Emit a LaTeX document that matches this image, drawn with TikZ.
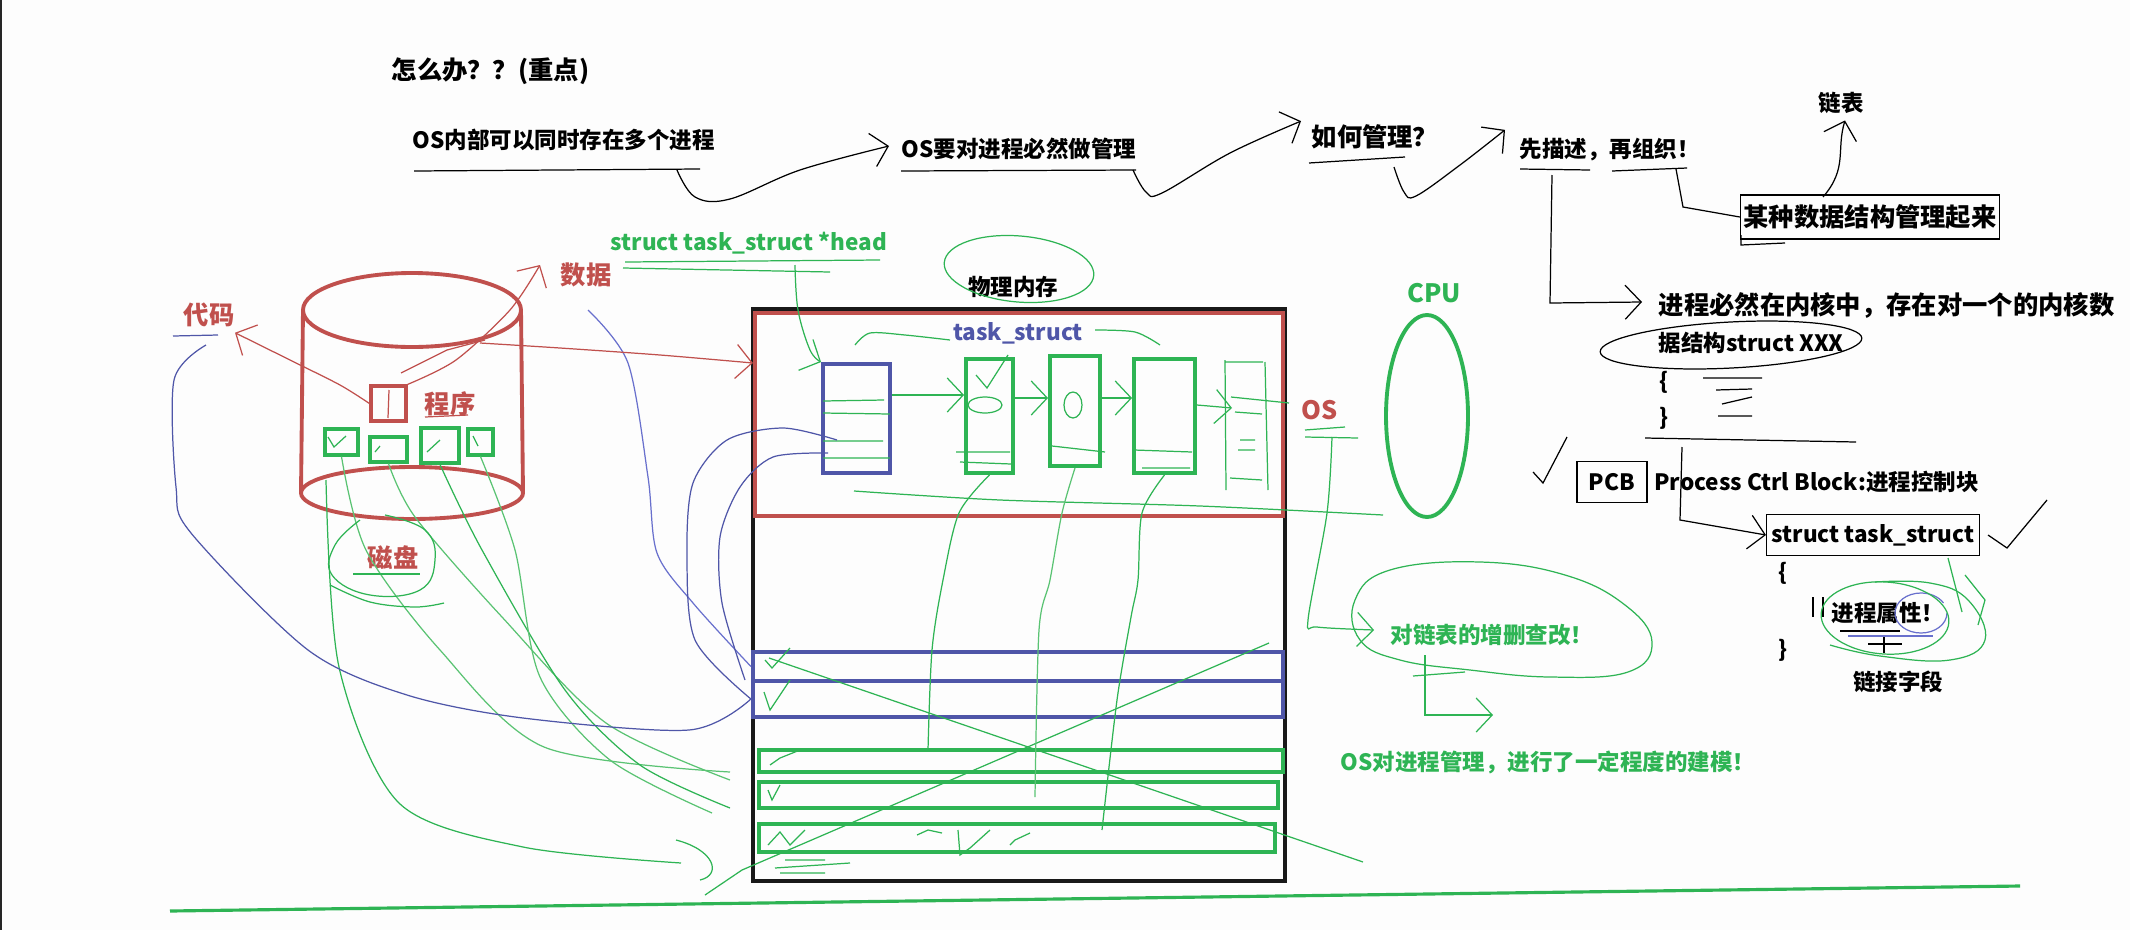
\documentclass[tikz,border=0pt]{standalone}
\usepackage{fontspec}
\setmainfont{Noto Sans CJK SC}
\usetikzlibrary{positioning,arrows.meta,calc}
\definecolor{Cred}{RGB}{192,80,77}
\definecolor{Cgreen}{RGB}{46,180,84}
\definecolor{Clgreen}{RGB}{90,195,115}
\definecolor{Cblue}{RGB}{79,86,168}
\definecolor{Clblue}{RGB}{105,112,205}
\definecolor{Cpaper}{RGB}{253,253,253}
\begin{document}
\begin{tikzpicture}[x=0.01cm, y=-0.01cm,
    txt/.style={font=\bfseries\fontsize{6.4}{8}\selectfont, inner sep=0pt},
    bigtxt/.style={txt, font=\bfseries\fontsize{7.2}{8}\selectfont},
    pen/.style={line width=0.35pt},
    box/.style={draw, line width=1.1pt, inner sep=0pt},
    hand/.style={-{Straight Barb[length=1.6mm,width=3.4mm]}}]
  \useasboundingbox[fill=Cpaper] (0,0) rectangle (2130,930);
  \draw[black!85, line width=0.7pt] (1,0) -- (1,930);

  % ---- chain of questions (top)
  \node[bigtxt, anchor=west] (title) at (391,71) {怎么办？？(重点)};
  \node[txt, anchor=west] (s1) at (412,140) {OS内部可以同时存在多个进程};
  \node[txt, anchor=west] (s2) at (901,149) {OS要对进程必然做管理};
  \node[bigtxt, anchor=west] (s3) at (1311,137) {如何管理？};
  \node[txt, anchor=west] (s4) at (1519,150) {先描述，再组织！};
  \draw[pen] (414,171) -- (700,169);
  \draw[pen] (901,171) -- (1136,170);
  \draw[pen] (1309,163) -- (1405,157);
  \draw[pen] (1520,169) -- (1590,170) (1612,171) -- (1687,168);
  \draw[pen, hand] plot[smooth, tension=0.6] coordinates
    {(677,170) (695,197) (730,199) (800,170) ($(s2.west)+(-12,-3)$)};
  \draw[pen, hand] plot[smooth, tension=0.6] coordinates
    {(1133,170) (1146,192) (1162,193) (1230,153) ($(s3.north west)+(-10,-3)$)};
  \draw[pen, hand] plot[smooth, tension=0.6] coordinates
    {(1394,167) (1404,192) (1416,196) (1460,165) ($(s4.north west)+(-14,-8)$)};

  % ---- describe, then organise
  \node[txt] (lb) at (1841,103) {链表};
  \node[bigtxt, draw, pen, minimum width=2.59cm, minimum height=0.44cm] (mz) at (1870,217) {某种数据结构管理起来};
  \draw[pen] (1741,235) -- (1741,245) -- (1785,243);
  \draw[pen] (1676,169) -- (1683,207) -- (mz.west);
  \draw[pen, hand] (1823,197) .. controls (1848,168) and (1836,150) .. ($(lb.south)+(4,6)$);
  \node[bigtxt, anchor=west] (k1) at (1658,305) {进程必然在内核中，存在对一个的内核数};
  \node[txt, anchor=west] (k2) at (1658,343) {据结构struct XXX};
  \draw[pen, hand] (1552,175) -- (1550,303) -- ($(k1.west)+(-16,-3)$);
  \draw[pen, rotate around={3:(1731,345)}] (1731,345) ellipse [x radius=131, y radius=23];
  \node[txt] (ob1) at (1664,382) {\{};
  \node[txt] (cb1) at (1664,418) {\}};
  \draw[pen] (1703,378) -- (1762,378) (1716,390) -- (1752,389)
             (1722,404) -- (1752,397) (1718,416) -- (1752,416);
  \draw[pen] (1645,438) -- (1856,442);

  % ---- PCB
  \node[txt, draw, pen, inner xsep=0.12cm, inner ysep=0.12cm] (pcb) at (1612,482) {PCB};
  \node[txt, right=0.06cm of pcb] (pcbt) {Process Ctrl Block:进程控制块};
  \node[txt, draw, pen, inner xsep=0.05cm, inner ysep=0.1cm] (ts) at (1873,535) {struct task\_struct};
  \draw[pen, hand] (1682,447) -- (1680,520) -- (ts.west);
  \draw[pen] (1533,472) -- (1543,483) -- (1567,437);
  \draw[pen] (1988,535) -- (2007,548) -- (2047,500);
  \node[txt] (ob2) at (1783,573) {\{};
  \node[txt] (attr) at (1888,613) {进程属性！};
  \node[txt] (cb2) at (1783,650) {\}};
  \node[txt] (link) at (1898,682) {链接字段};
  \draw[pen] (1813,597) -- (1813,617) (1823,597) -- (1823,617);
  \draw[pen] (1840,631) -- (1900,631) (1868,644) -- (1902,644) (1884,637) -- (1884,653);
  \draw[pen, Clblue] (1848,636) -- (1933,636);
  \draw[pen, Clblue] (attr.east) ++(0.02cm,0) arc[start angle=0, end angle=330, x radius=26, y radius=20];
  \draw[pen, Cgreen, rotate around={-4:(1885,618)}] (1885,618) ellipse [x radius=64, y radius=36];
  \draw[pen, Cgreen] plot[smooth, tension=0.7] coordinates
    {(1830,645) (1880,656) (1950,660) (1985,640) (1968,600) (1930,583) (1875,582)};
  \draw[pen, Cgreen] (1948,558) -- (1962,612);
  \draw[pen, Cgreen] (1965,575) -- (1985,600) -- (1978,625);

  % ---- CPU and OS
  \node[bigtxt, text=Cgreen] (cpu) at (1434,293) {CPU};
  \draw[Cgreen, line width=1.1pt] (1427,416) ellipse [x radius=41, y radius=101];
  \node[bigtxt, text=Cred] (os) at (1320,410) {OS};
  \draw[pen, Cgreen] (1305,430) -- (1345,427) (1305,437) -- (1358,438);
  \node[txt, text=Cgreen] (zs) at (1492,635) {对链表的增删查改！};
  \draw[pen, Cgreen, hand] plot[smooth, tension=0.5] coordinates
    {(1332,437) (1327,513) (1308,620) (1317,627) ($(zs.west)+(-16,-5)$)};
  \draw[pen, Cgreen] plot[smooth cycle, tension=0.7] coordinates
    {(1355,600) (1390,570) (1480,562) (1565,575) (1625,605) (1652,642)
     (1628,672) (1550,677) (1470,670) (1400,660) (1360,640)};
  \draw[pen, Cgreen] (1413,676) -- (1465,672);
  \node[txt, text=Cgreen, anchor=west] (model) at (1340,762) {OS对进程管理，进行了一定程度的建模！};
  \coordinate (zsend) at (1493,715);
  \draw[pen, Cgreen, hand] (1425,655) -- (1425,715) -- (zsend);

  % ---- disk (cylinder)
  \draw[Cred, line width=1.1pt] (412,310) ellipse [x radius=109, y radius=37];
  \draw[Cred, line width=1.1pt] (303,310) -- (301,493) (521,310) -- (523,493);
  \draw[Cred, line width=1.1pt] (412,493) ellipse [x radius=111, y radius=26];
  \node[box, draw=Cred, line width=0.9pt, minimum width=0.35cm, minimum height=0.35cm] (prog) at (388.5,403.5) {};
  \draw[pen, Cred] (389,390) -- (388,418);
  \node[box, draw=Cgreen, line width=0.9pt, minimum width=0.33cm, minimum height=0.26cm] (d1) at (341.5,442) {};
  \node[box, draw=Cgreen, line width=0.9pt, minimum width=0.37cm, minimum height=0.25cm] (d2) at (388.5,449.5) {};
  \node[box, draw=Cgreen, line width=0.9pt, minimum width=0.38cm, minimum height=0.35cm] (d3) at (440,445.5) {};
  \node[box, draw=Cgreen, line width=0.9pt, minimum width=0.25cm, minimum height=0.26cm] (d4) at (480.5,442) {};
  \draw[pen, Cgreen] (328,437) -- (334,447) -- (346,436) (375,452) -- (380,446)
    (427,452) -- (440,440) (473,436) -- (478,446);
  \node[bigtxt, text=Cred] (cx) at (450,404) {程序};
  \draw[pen, Cred] (425,417) -- (468,415);
  \node[bigtxt, text=Cred] (cp) at (393,558) {磁盘};
  \node[bigtxt, text=Cred] (dm) at (209,315) {代码};
  \node[bigtxt, text=Cred] (sj) at (586,275) {数据};
  \draw[pen, Cred, hand] plot[smooth, tension=0.5] coordinates
    {(prog.west) (340,385) (290,360) ($(dm.south east)+(0,5)$)};
  \draw[pen, Cred, hand] plot[smooth, tension=0.5] coordinates
    {(prog.north east) (456,360) (510,310) ($(sj.west)+(-20,-10)$)};
  \draw[pen, Cred] (401,373) -- (447,350) -- (485,340);
  \draw[pen, Cblue] (173,336) -- (218,335);

  % ---- physical memory
  \node[txt] (pm) at (1013,287) {物理内存};
  \draw[pen, Cgreen, rotate around={-5:(1019,269)}] (1019,269) ellipse [x radius=75, y radius=33];
  \node[box, draw=black!90, minimum width=5.32cm, minimum height=5.72cm] (mem) at (1019,595) {};
  \node[box, draw=Cred, minimum width=5.28cm, minimum height=2.03cm] (osr) at (1019,414.5) {};
  \node[txt, text=Cblue] (tsl) at (1018,333) {task\_struct};
  \node[txt, text=Cgreen, anchor=west] (head) at (610,243) {struct task\_struct *head};
  \draw[pen, Cgreen] (625,262) -- (880,260) (623,268) -- (830,272);
  \node[box, draw=Cblue, minimum width=0.67cm, minimum height=1.09cm] (tb) at (856.5,418.5) {};
  \node[box, draw=Cgreen, minimum width=0.47cm, minimum height=1.14cm] (g1) at (989.5,416) {};
  \node[box, draw=Cgreen, minimum width=0.50cm, minimum height=1.10cm] (g2) at (1075,411) {};
  \node[box, draw=Cgreen, minimum width=0.61cm, minimum height=1.14cm] (g3) at (1164.5,416) {};
  \draw[pen, Cgreen, hand] (tb.east |- 0,395) -- (g1.west |- 0,395);
  \draw[pen, Cgreen, hand] (g1.east |- 0,398) -- (g2.west |- 0,398);
  \draw[pen, Cgreen, hand] (g2.east |- 0,398) -- (g3.west |- 0,398);
  \draw[pen, Cgreen, hand] (g3.east |- 0,405) -- (1232,408);
  % sketched next node
  \draw[pen, Cgreen] (1225,360) -- (1226,490) (1265,362) -- (1268,490)
    (1225,362) -- (1263,362) (1231,397) -- (1289,403)
    (1235,412) -- (1262,414) (1240,440) -- (1255,440) (1238,450) -- (1255,450)
    (1230,478) -- (1262,480);
  % task_struct brackets and fields
  \draw[pen, Cgreen] plot[smooth] coordinates {(855,345) (870,333) (905,335) (950,340)};
  \draw[pen, Cgreen] plot[smooth] coordinates {(1095,330) (1135,332) (1160,345)};
  \draw[pen, Cgreen] (823,401) -- (884,400) (823,413) -- (890,414)
    (823,441) -- (883,441) (823,458) -- (890,458);
  \draw[pen, Cgreen] (985,405) ellipse [x radius=17, y radius=8];
  \draw[pen, Cgreen] (976,375) -- (987,388) -- (1008,355);
  \draw[pen, Cgreen] (956,452) -- (1010,452) (960,462) -- (1011,464);
  \draw[pen, Cgreen] (1073,405) ellipse [x radius=9, y radius=13];
  \draw[pen, Cgreen] (1052,446) -- (1105,452) (1134,450) -- (1192,452) (1142,468) -- (1190,468);
  \draw[pen, Cgreen, hand] plot[smooth, tension=0.6] coordinates
    {(795,265) (798,310) (810,350) (tb.north west)};
  \draw[pen, Cgreen] plot[smooth, tension=0.5] coordinates
    {(854,491) (1000,500) (1200,506) (1383,515)};

  % ---- lower part of memory
  \node[box, draw=Cblue, minimum width=5.30cm, minimum height=0.29cm] (b1) at (1018,666.5) {};
  \node[box, draw=Cblue, minimum width=5.30cm, minimum height=0.36cm] (b2) at (1018,699) {};
  \node[box, draw=Cgreen, minimum width=5.24cm, minimum height=0.22cm] (r1) at (1021,761) {};
  \node[box, draw=Cgreen, minimum width=5.19cm, minimum height=0.26cm] (r2) at (1018.5,795) {};
  \node[box, draw=Cgreen, minimum width=5.16cm, minimum height=0.28cm] (r3) at (1017,838) {};
  \draw[pen, Cgreen] (769,658) -- (1363,862);
  \draw[pen, Cgreen] (1269,643) -- (742,870) -- (705,895);
  \draw[pen, Cgreen] (765,660) -- (772,668) -- (790,648) (764,692) -- (770,710) -- (790,680)
    (770,765) -- (780,758) -- (800,750) (768,790) -- (772,800) -- (780,785)
    (768,845) -- (780,832) -- (790,845) -- (805,830);
  \draw[pen, Cgreen] (917,835) -- (928,830) -- (942,833) (958,830) -- (960,855) -- (970,848) -- (990,830)
    (1010,845) -- (1015,840) -- (1030,833);
  \draw[pen, Cgreen] (785,860) -- (825,860) (775,868) -- (850,863) (780,873) -- (825,873);
  % strokes from disk to memory
  \draw[pen, Clgreen] plot[smooth, tension=0.5] coordinates
    {(d1.south) (366,550) (440,650) (544,747) (730,772)};
  \draw[pen, Clgreen] plot[smooth, tension=0.5] coordinates
    {(d2.south) (415,517) (502,617) (606,723) (730,780)};
  \draw[pen, Cgreen] plot[smooth, tension=0.5] coordinates
    {(d3.south) (482,550) (565,690) (640,765) (730,808)};
  \draw[pen, Clgreen] plot[smooth, tension=0.5] coordinates
    {(d4.south) (515,550) (540,677) (610,760) (712,813)};
  \draw[pen, Cgreen] plot[smooth, tension=0.5] coordinates
    {(326,480) (339,667) (399,803) (523,847) (681,863)};
  \draw[pen, Cgreen] (676,840) .. controls (715,850) and (722,875) .. (700,880);
  % circle round the disk label
  \draw[pen, Cgreen] plot[smooth, tension=0.7] coordinates
    {(360,520) (335,545) (332,575) (370,595) (420,590) (435,560) (425,530) (385,515)};
  \draw[pen, Cgreen] (353,574) -- (420,574);
  \draw[pen, Cgreen] plot[smooth, tension=0.6] coordinates {(330,585) (370,602) (415,607) (444,603)};
  % strokes from boxes to lower rows
  \draw[pen, Cgreen] plot[smooth, tension=0.5] coordinates
    {(g1.south) (959,513) (943,580) (932,650) (928,750)};
  \draw[pen, Clgreen] plot[smooth, tension=0.5] coordinates
    {(g2.south) (1062,513) (1050,580) (1039,630) (1035,797)};
  \draw[pen, Cgreen] plot[smooth, tension=0.5] coordinates
    {(g3.south) (1142,513) (1138,580) (1131,617) (1117,700) (1102,830)};
  % blue strokes
  \draw[pen, Cblue] plot[smooth, tension=0.5] coordinates
    {(206,345) (174,380) (176,487) (191,533) (308,650) (407,695) (523,718) (689,730) (b2.west)};
  \draw[pen, Clblue] plot[smooth, tension=0.5] coordinates
    {(588,310) (628,363) (648,477) (657,553) (693,603) (b1.west)};
  \draw[pen, Cblue] plot[smooth, tension=0.5] coordinates
    {(837,440) (783,428) (727,440) (693,483) (687,553) (695,640) (b2.west)};
  \draw[pen, Cblue] plot[smooth, tension=0.5] coordinates
    {(828,453) (773,457) (740,487) (720,537) (722,603) (745,680)};
  % red arrow disk -> memory
  \draw[pen, Cred, hand] plot[smooth, tension=0.5] coordinates
    {(480,343) (560,348) (660,355) (osr.west |- 0,363)};

  % ---- floor line
  \draw[Cgreen, line width=0.9pt] (170,911) -- (2020,886);
\end{tikzpicture}
\end{document}
